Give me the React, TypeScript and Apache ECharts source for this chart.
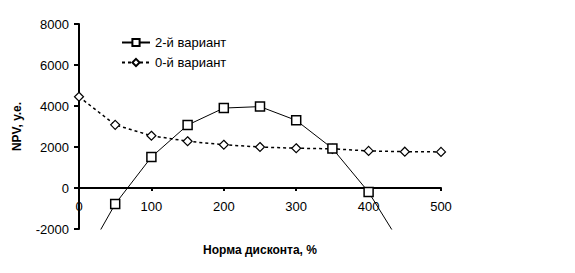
import React, { useEffect, useRef } from "react";
import * as echarts from "echarts";

const xValues = [0, 50, 100, 150, 200, 250, 300, 350, 400, 450, 500];
const variant2 = [-3900, -780, 1510, 3070, 3900, 3970, 3300, 1930, -200, -3050, null];
const variant0 = [4450, 3080, 2550, 2280, 2110, 2000, 1940, 1910, 1810, 1770, 1760];
const seriesNames = ["2-й вариант", "0-й вариант"];
const xTitle = "Норма дисконта, %";
const yTitle = "NPV, у.е.";

const FONT = "Arial, 'Liberation Sans', sans-serif";

export default function App() {
  const ref = useRef<HTMLDivElement>(null);
  useEffect(() => {
    if (!ref.current) return;
    const chart = echarts.init(ref.current, null, { renderer: "svg" });
    chart.setOption({
      animation: false,
      backgroundColor: "#ffffff",
      textStyle: { fontFamily: FONT },
      grid: {
        left: 79,
        right: 134,
        top: 24,
        bottom: 44,
        containLabel: false,
        outerBoundsMode: "none",
      },
      legend: {
        orient: "vertical",
        left: 116,
        top: 31,
        itemWidth: 28,
        itemHeight: 9,
        itemGap: 7,
        textStyle: { fontFamily: FONT, fontSize: 13, color: "#000" },
        data: seriesNames,
      },
      xAxis: {
        type: "value",
        min: 0,
        max: 500,
        interval: 100,
        offset: -41,
        name: xTitle,
        nameLocation: "middle",
        nameGap: 56,
        nameTextStyle: { fontFamily: FONT, fontSize: 12, fontWeight: "bold", color: "#000" },
        axisLine: { show: true, onZero: false, lineStyle: { color: "#000", width: 2 } },
        axisTick: { show: true, inside: false, length: 3, lineStyle: { color: "#000", width: 2 } },
        axisLabel: { fontFamily: FONT, fontSize: 13, color: "#000", margin: 12 },
        splitLine: { show: false },
      },
      yAxis: {
        type: "value",
        min: -2000,
        max: 8000,
        interval: 2000,
        name: yTitle,
        nameLocation: "middle",
        nameGap: 56,
        nameTextStyle: { fontFamily: FONT, fontSize: 12, fontWeight: "bold", color: "#000" },
        axisLine: { show: true, onZero: false, lineStyle: { color: "#000", width: 2 } },
        axisTick: { show: true, inside: false, length: 5, lineStyle: { color: "#000", width: 2 } },
        axisLabel: {
          fontFamily: FONT,
          fontSize: 13,
          color: "#000",
          margin: 10,
          formatter: (v: number) => String(v),
        },
        splitLine: { show: false },
      },
      series: [
        {
          name: seriesNames[0],
          type: "line",
          data: xValues.map((x, i) => [x, variant2[i]]),
          symbol: "rect",
          symbolSize: 9,
          showAllSymbol: true,
          clip: true,
          lineStyle: { color: "#000", width: 1, type: "solid" },
          itemStyle: { color: "#fff", borderColor: "#000", borderWidth: 1.5 },
          z: 3,
        },
        {
          name: seriesNames[1],
          type: "line",
          data: xValues.map((x, i) => [x, variant0[i]]),
          symbol: "diamond",
          symbolSize: 9,
          showAllSymbol: true,
          lineStyle: { color: "#000", width: 1.5, type: [3, 3] },
          itemStyle: { color: "#fff", borderColor: "#000", borderWidth: 1.2 },
          z: 2,
        },
      ],
    });
    return () => chart.dispose();
  }, []);
  return <div ref={ref} style={{ width: 575, height: 273, position: "absolute", left: 0, top: 0 }} />;
}
